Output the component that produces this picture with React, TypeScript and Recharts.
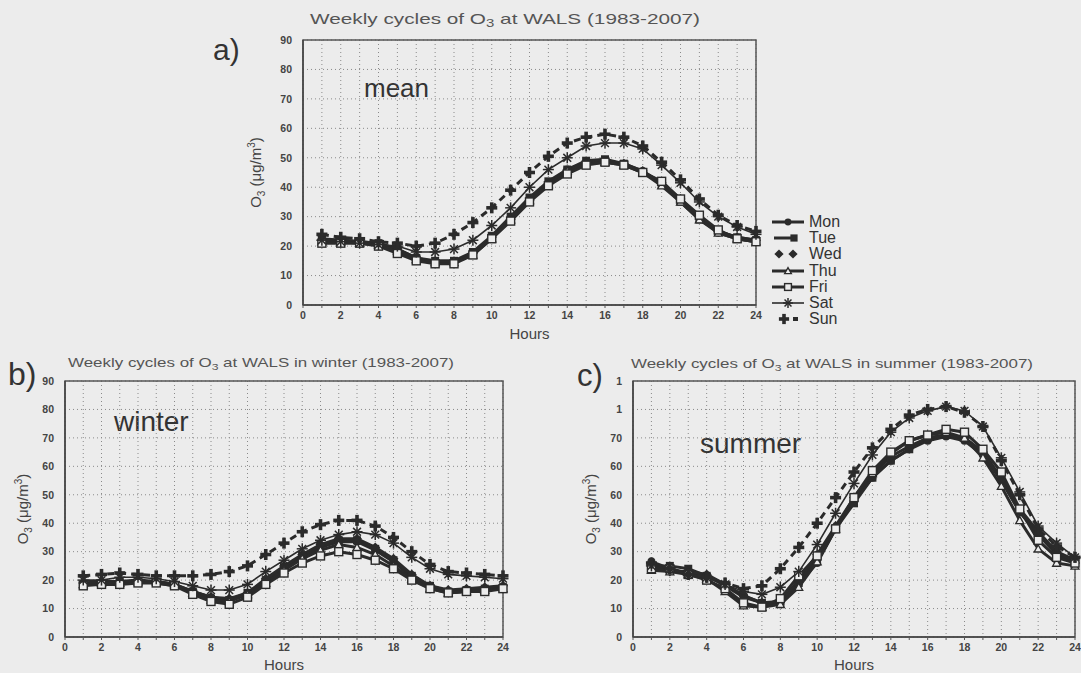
import React from "react";
import {
  LineChart,
  Line,
  XAxis,
  YAxis,
  CartesianGrid,
  ReferenceArea,
  Legend,
} from "recharts";

// ---------- data ----------
const HOURS = [1, 2, 3, 4, 5, 6, 7, 8, 9, 10, 11, 12, 13, 14, 15, 16, 17, 18, 19, 20, 21, 22, 23, 24];
const DAYS = ["Mon", "Tue", "Wed", "Thu", "Fri", "Sat", "Sun"];

// a) mean
const meanMon = [22, 22, 21.5, 20.5, 19, 16, 14.5, 14.5, 17.5, 23, 29.5, 36, 41.5, 46, 48.5, 49, 48, 45.5, 41, 35.5, 29.5, 24.5, 22.5, 21.5];
const meanTue = [22.5, 22, 21.5, 21, 19, 16, 15, 15, 18, 23.5, 30, 36.5, 42, 46, 49, 49.5, 48, 45, 41, 35, 29, 25, 23, 22];
const meanWed = [22, 22, 21.5, 21, 19, 15.5, 14.5, 14.5, 17.5, 23, 29, 35.5, 41, 45.5, 48.5, 49, 48, 45.5, 41.5, 36, 30, 25, 23, 22];
const meanThu = [21.5, 21.5, 21, 20.5, 18.5, 15.5, 14.5, 14.5, 17, 22.5, 29, 35.5, 41, 45.5, 48, 48.5, 47.5, 45, 40.5, 35, 29, 24.5, 22.5, 21.5];
const meanFri = [21, 21, 21, 20, 17.5, 15, 14, 14, 17, 22.5, 28.5, 35, 40.5, 44.5, 47.5, 48.5, 47.5, 45, 42, 36, 30.5, 25.5, 22.5, 21.5];
const meanSat = [22, 21.5, 21, 20.5, 20, 18, 18, 19, 22, 27, 33, 40, 46, 50, 54, 55, 55, 53, 47.5, 41.5, 35, 30, 26.5, 24];
const meanSun = [24, 23, 22.5, 21.5, 21, 20, 21, 24, 28, 33, 39, 45, 50.5, 55, 57, 58, 57, 54, 48.5, 42.5, 36, 30.5, 27, 25];

// b) winter
const winMon = [19, 19, 19.5, 19.5, 19.5, 18.5, 16, 14, 13, 15, 19.5, 24, 28, 31.5, 33.5, 33.5, 30.5, 26.5, 21, 17.5, 16, 16.5, 17, 17.5];
const winTue = [18.5, 19, 19.5, 19.5, 19, 18, 16, 13.5, 13, 15.5, 20, 24.5, 28.5, 32, 34, 34, 31, 27, 21.5, 18, 16, 16.5, 17, 17.5];
const winWed = [19, 19.5, 19.5, 20, 19.5, 18.5, 16, 14, 13.5, 15.5, 20.5, 25, 29, 32.5, 34.5, 34.5, 31.5, 27.5, 22, 18, 16.5, 17, 17.5, 18];
const winThu = [18.5, 19, 19, 19.5, 19.5, 18.5, 15.5, 13, 12.5, 15, 19, 23.5, 27.5, 30.5, 32.5, 31.5, 29, 25, 20.5, 17, 15.5, 16, 16.5, 17];
const winFri = [18, 18.5, 18.5, 19, 19, 18, 15, 12.5, 11.5, 14, 18.5, 22.5, 26, 28.5, 30, 29, 27, 24, 20, 17, 15.5, 16, 16, 17];
const winSat = [20, 20, 21, 21, 20.5, 19.5, 18, 16.5, 16.5, 18.5, 23, 27, 31, 34, 36, 37, 36, 33, 28, 24, 22, 21.5, 21, 20.5];
const winSun = [21.5, 22, 22.5, 22, 21.5, 21.5, 21.5, 22, 23, 25, 29, 33, 37, 39.5, 41, 41, 39, 35, 30, 25.5, 23, 22.5, 22, 21.5];

// c) summer
const sumMon = [26.5, 24, 22.5, 21.5, 18.5, 14.5, 12, 11.5, 19, 26, 38, 48, 56, 62, 66, 69, 70.5, 69, 64, 55, 44, 36, 29, 26];
const sumTue = [25, 25, 24, 21.5, 18, 14, 12, 12, 19, 28, 38, 47, 56, 62, 66, 70, 71, 70, 65, 56, 45, 37, 30, 27];
const sumWed = [25.5, 23, 23, 22, 18.5, 14.5, 12, 12.5, 20, 29, 39, 49, 57, 63.5, 67, 70, 71, 70, 65, 55, 44, 36, 30, 26];
const sumThu = [23.5, 23, 22, 20.5, 16, 11, 10.5, 11.5, 17.5, 26.5, 38, 49, 57.5, 64.5, 69, 71, 72, 70, 63, 53, 41, 31, 26, 25];
const sumFri = [24, 24, 22, 20, 17, 12, 10.5, 13.5, 21.5, 28.5, 38, 49, 58.5, 65, 69, 71, 73, 72, 66, 58, 45, 34, 28, 26];
const sumSat = [25, 24, 22, 21, 18.5, 16, 15, 17.5, 23, 32.5, 43.5, 54, 64, 72, 77, 79.5, 81, 79.5, 74, 63, 51, 39, 33, 28];
const sumSun = [26, 24, 22, 21, 19, 17, 18, 24, 31.5, 40, 49, 58, 66.5, 73, 78, 80, 81, 79, 74, 62, 50, 38, 32, 28];

const X_TICKS = [0, 1, 2, 3, 4, 5, 6, 7, 8, 9, 10, 11, 12, 13, 14, 15, 16, 17, 18, 19, 20, 21, 22, 23, 24];
const Y_TICKS = [0, 10, 20, 30, 40, 50, 60, 70, 80, 90];
const Y_LABELS_STD = ["0", "10", "20", "30", "40", "50", "60", "70", "80", "90"];
const Y_LABELS_SUMMER = ["0", "10", "20", "30", "40", "60", "60", "70", "1", "1"];

const TITLE_HEAD = "Weekly cycles of O";
const TITLE_A_TAIL = " at WALS (1983-2007)";
const TITLE_B_TAIL = " at WALS in winter (1983-2007)";
const TITLE_C_TAIL = " at WALS in summer (1983-2007)";

function buildRows(series: number[][]) {
  return HOURS.map((h, i) => {
    const row: Record<string, number> = { h };
    DAYS.forEach((d, k) => {
      row[d] = series[k][i];
    });
    return row;
  });
}

const meanRows = buildRows([meanMon, meanTue, meanWed, meanThu, meanFri, meanSat, meanSun]);
const winterRows = buildRows([winMon, winTue, winWed, winThu, winFri, winSat, winSun]);
const summerRows = buildRows([sumMon, sumTue, sumWed, sumThu, sumFri, sumSat, sumSun]);

// ---------- styles ----------
const INK = "#2b2b2b";
const BG = "#ececec";
const FONT = "'Liberation Sans', Arial, sans-serif";

type Shape = "circle" | "square" | "diamond" | "triangle" | "osquare" | "asterisk" | "plus";
const DAY_STYLE: Record<string, { shape: Shape; width: number; dash?: string }> = {
  Mon: { shape: "circle", width: 3 },
  Tue: { shape: "square", width: 3 },
  Wed: { shape: "diamond", width: 3 },
  Thu: { shape: "triangle", width: 3 },
  Fri: { shape: "osquare", width: 3 },
  Sat: { shape: "asterisk", width: 1.6 },
  Sun: { shape: "plus", width: 3, dash: "7 5" },
};

function Marker({ shape, cx, cy, s = 1 }: { shape: Shape; cx: number; cy: number; s?: number }) {
  if (cx == null || cy == null || isNaN(cx) || isNaN(cy)) return null;
  const r = 4 * s;
  switch (shape) {
    case "circle":
      return <circle cx={cx} cy={cy} r={r} fill={INK} />;
    case "square":
      return <rect x={cx - r} y={cy - r} width={2 * r} height={2 * r} fill={INK} />;
    case "diamond":
      return (
        <polygon
          points={`${cx},${cy - r - 1} ${cx + r + 1},${cy} ${cx},${cy + r + 1} ${cx - r - 1},${cy}`}
          fill={INK}
        />
      );
    case "triangle":
      return (
        <polygon
          points={`${cx},${cy - r} ${cx + r},${cy + r * 0.8} ${cx - r},${cy + r * 0.8}`}
          fill={BG}
          stroke={INK}
          strokeWidth={1.3}
        />
      );
    case "osquare":
      return (
        <rect x={cx - r} y={cy - r} width={2 * r} height={2 * r} fill={BG} stroke={INK} strokeWidth={1.4} />
      );
    case "asterisk": {
      const R = r + 1.5;
      const lines = [0, 45, 90, 135].map((a) => {
        const rad = (a * Math.PI) / 180;
        const dx = Math.cos(rad) * R;
        const dy = Math.sin(rad) * R;
        return <line key={a} x1={cx - dx} y1={cy - dy} x2={cx + dx} y2={cy + dy} stroke={INK} strokeWidth={1.5} />;
      });
      return <g>{lines}</g>;
    }
    case "plus": {
      const R = r + 1.5;
      return (
        <g>
          <rect x={cx - R} y={cy - 1.8} width={2 * R} height={3.6} fill={INK} />
          <rect x={cx - 1.8} y={cy - R} width={3.6} height={2 * R} fill={INK} />
        </g>
      );
    }
  }
  return null;
}

function LegendIcon({ day }: { day: string }) {
  const st = DAY_STYLE[day];
  const w = 34;
  const h = 14;
  const cy = h / 2;
  let body: React.ReactNode = null;
  if (day === "Wed") {
    body = (
      <g>
        <Marker shape="diamond" cx={7} cy={cy} s={0.9} />
        <Marker shape="diamond" cx={21} cy={cy} s={0.9} />
      </g>
    );
  } else if (day === "Sun") {
    body = (
      <g>
        <Marker shape="plus" cx={12} cy={cy} s={0.9} />
        <rect x={21} y={cy - 2} width={5} height={4} fill={INK} />
      </g>
    );
  } else if (day === "Tue") {
    body = (
      <g>
        <line x1={2} y1={cy} x2={24} y2={cy} stroke={INK} strokeWidth={3} />
        <Marker shape="square" cx={22} cy={cy} s={0.9} />
      </g>
    );
  } else {
    body = (
      <g>
        <line x1={0} y1={cy} x2={32} y2={cy} stroke={INK} strokeWidth={st.width} />
        <Marker shape={st.shape} cx={16} cy={cy} s={0.85} />
      </g>
    );
  }
  return (
    <svg width={w} height={h} style={{ display: "block" }}>
      {body}
    </svg>
  );
}

function LegendContent() {
  return (
    <div style={{ fontFamily: FONT, fontSize: 16, color: "#333", lineHeight: "16.2px" }}>
      {DAYS.map((d) => (
        <div key={d} style={{ display: "flex", alignItems: "center", height: 16.2 }}>
          <LegendIcon day={d} />
          <span style={{ marginLeft: 3 }}>{d}</span>
        </div>
      ))}
    </div>
  );
}

const tickStyle = { fontSize: 10.5, fill: "#444", fontFamily: FONT, fontWeight: 700 };

type PanelProps = {
  rows: Record<string, number>[];
  box: { left: number; top: number; width: number; height: number };
  plot: { x1: number; x2: number; y1: number; y2: number };
  yLabels: string[];
  yLabelOffset: number;
  hoursDy: number;
  legend?: boolean;
};

function Panel({ rows, box, plot, yLabels, yLabelOffset, hoursDy, legend }: PanelProps) {
  const YW = 30;
  const XH = 30;
  const margin = {
    left: plot.x1 - box.left - YW,
    top: plot.y1 - box.top,
    right: box.left + box.width - plot.x2,
    bottom: box.top + box.height - plot.y2 - XH,
  };
  return (
    <div style={{ position: "absolute", left: box.left, top: box.top }}>
      <LineChart width={box.width} height={box.height} data={rows} margin={margin}>
        <CartesianGrid stroke="#8a8a8a" strokeDasharray="1 3" strokeWidth={1} />
        <XAxis
          dataKey="h"
          type="number"
          domain={[0, 24]}
          ticks={X_TICKS}
          interval={0}
          height={XH}
          tickFormatter={(v: number) => (v % 2 === 0 ? String(v) : "")}
          tick={tickStyle}
          tickLine={{ stroke: "#555" }}
          tickSize={3}
          tickMargin={4}
          axisLine={{ stroke: "#444", strokeWidth: 1.5 }}
          label={{
            content: (p: any) => {
              const vb = p.viewBox || {};
              return (
                <text
                  x={vb.x + vb.width / 2}
                  y={vb.y + hoursDy}
                  textAnchor="middle"
                  fontFamily={FONT}
                  fontSize={15}
                  fill="#444"
                >
                  Hours
                </text>
              );
            },
          }}
        />
        <YAxis
          type="number"
          domain={[0, 90]}
          ticks={Y_TICKS}
          interval={0}
          width={YW}
          tick={tickStyle}
          tickFormatter={(v: number) => yLabels[Y_TICKS.indexOf(v)] ?? ""}
          tickLine={false}
          tickMargin={5}
          axisLine={{ stroke: "#444", strokeWidth: 1.5 }}
          label={{
            content: (p: any) => {
              const vb = p.viewBox || {};
              const x = vb.x + vb.width - yLabelOffset;
              const y = vb.y + vb.height / 2;
              return (
                <text
                  transform={`translate(${x},${y}) rotate(-90)`}
                  textAnchor="middle"
                  fontFamily={FONT}
                  fontSize={15}
                  fill="#444"
                >
                  O<tspan fontSize={10} dy={4}>3</tspan>
                  <tspan dy={-4}> (μg/m</tspan>
                  <tspan fontSize={10} dy={-6}>3</tspan>
                  <tspan dy={6}>)</tspan>
                </text>
              );
            },
          }}
        />
        <ReferenceArea x1={0} x2={24} y1={0} y2={90} fill="none" stroke="#555" strokeWidth={1.5} ifOverflow="visible" />
        {legend && (
          <Legend
            layout="vertical"
            align="center"
            verticalAlign="middle"
            content={() => <LegendContent />}
            wrapperStyle={{ left: 552, top: 214, width: 90 }}
          />
        )}
        {DAYS.map((d) => {
          const st = DAY_STYLE[d];
          return (
            <Line
              key={d}
              dataKey={d}
              name={d}
              type="linear"
              stroke={INK}
              strokeWidth={st.width}
              strokeDasharray={st.dash}
              isAnimationActive={false}
              activeDot={false}
              dot={(p: any) => <Marker key={`${d}-${p.index}`} shape={st.shape} cx={p.cx} cy={p.cy} />}
            />
          );
        })}
      </LineChart>
    </div>
  );
}

function Title({ x, y, w, tail, size }: { x: number; y: number; w: number; tail: string; size: number }) {
  return (
    <text x={x} y={y} textLength={w} lengthAdjust="spacingAndGlyphs" fontFamily={FONT} fontSize={size} fill="#555">
      {TITLE_HEAD}
      <tspan fontSize={size * 0.72} dy={3}>3</tspan>
      <tspan dy={-3}>{tail}</tspan>
    </text>
  );
}

export default function App() {
  return (
    <div
      style={{
        position: "absolute",
        left: 0,
        top: 0,
        width: 1081,
        height: 673,
        background: BG,
        overflow: "hidden",
        fontFamily: FONT,
      }}
    >
      <svg width={1081} height={673} style={{ position: "absolute", left: 0, top: 0 }}>
        <Title x={310} y={24} w={390} tail={TITLE_A_TAIL} size={15} />
        <Title x={68} y={367} w={386} tail={TITLE_B_TAIL} size={13} />
        <Title x={631} y={368} w={402} tail={TITLE_C_TAIL} size={13} />
        <text x={213} y={60} fontFamily={FONT} fontSize={30} fill="#333">a)</text>
        <text x={8} y={385} fontFamily={FONT} fontSize={32} fill="#333">b)</text>
        <text x={577} y={386} fontFamily={FONT} fontSize={31} fill="#333">c)</text>
        <text x={364} y={97} fontFamily={FONT} fontSize={26} fill="#333">mean</text>
        <text x={114} y={431} fontFamily={FONT} fontSize={28} fill="#333">winter</text>
        <text x={700} y={453} fontFamily={FONT} fontSize={28} fill="#333">summer</text>
      </svg>
      <Panel
        rows={meanRows}
        box={{ left: 220, top: 0, width: 640, height: 345 }}
        plot={{ x1: 303, x2: 756, y1: 40, y2: 305 }}
        yLabels={Y_LABELS_STD}
        yLabelOffset={42}
        hoursDy={34}
        legend
      />
      <Panel
        rows={winterRows}
        box={{ left: 0, top: 345, width: 540, height: 328 }}
        plot={{ x1: 65, x2: 503, y1: 381, y2: 637 }}
        yLabels={Y_LABELS_STD}
        yLabelOffset={37}
        hoursDy={33}
      />
      <Panel
        rows={summerRows}
        box={{ left: 540, top: 345, width: 541, height: 328 }}
        plot={{ x1: 633, x2: 1075, y1: 381, y2: 637 }}
        yLabels={Y_LABELS_SUMMER}
        yLabelOffset={37}
        hoursDy={33}
      />
    </div>
  );
}
